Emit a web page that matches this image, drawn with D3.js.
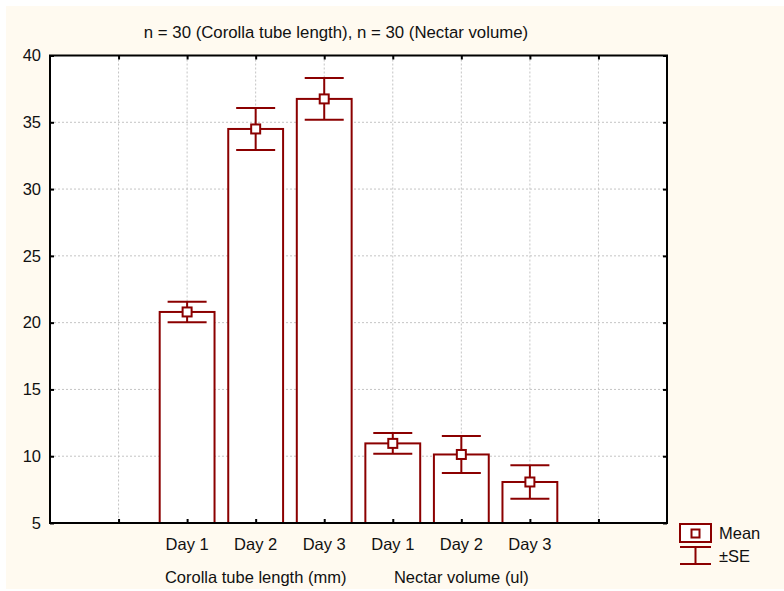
<!DOCTYPE html>
<html>
<head>
<meta charset="utf-8">
<script src="https://cdn.jsdelivr.net/npm/d3@7"></script>
<style>
  body { margin: 0; background: #fff; }
  text { font-family: "Liberation Sans", Arial, sans-serif; fill: #111; }
</style>
</head>
<body>
<svg id="chart" width="784" height="591"></svg>
<script>
// data
const groups = ['Corolla tube length (mm)', 'Nectar volume (ul)'];
const dayLabels = ['Day 1', 'Day 2', 'Day 3'];
const corollaMean = [20.8, 34.5, 36.75];
const corollaSE = [0.77, 1.57, 1.56];
const nectarMean = [10.96, 10.13, 8.07];
const nectarSE = [0.77, 1.38, 1.25];
const yTicks = [5, 10, 15, 20, 25, 30, 35, 40];
const title = 'n = 30 (Corolla tube length), n = 30 (Nectar volume)';

const rows = [];
dayLabels.forEach((d, i) => rows.push({ group: 0, label: d, mean: corollaMean[i], se: corollaSE[i] }));
dayLabels.forEach((d, i) => rows.push({ group: 1, label: d, mean: nectarMean[i], se: nectarSE[i] }));
rows.forEach((r, i) => { r.pos = i + 2; });

const red = '#8b0000';
const fs = '16.5px';
const margin = { top: 55.5, right: 117, bottom: 68, left: 50 };
const W = 784, H = 591;
const width = W - margin.left - margin.right;
const height = H - margin.top - margin.bottom;

const svg = d3.select('#chart');
svg.append('rect').attr('x', 6).attr('y', 6).attr('width', W - 6).attr('height', H - 8)
    .attr('fill', '#fffaf0');

const g = svg.append('g').attr('transform', 'translate(' + margin.left + ',' + margin.top + ')');

const x = d3.scaleLinear().domain([0, 9]).range([0, width]);
const y = d3.scaleLinear().domain([5, 40]).range([height, 0]);
const step = x(1) - x(0);
const bw = step * 0.8;

g.append('rect').attr('width', width).attr('height', height).attr('fill', '#fff');

// grid
g.selectAll('line.vgrid').data(d3.range(1, 9)).enter().append('line')
    .attr('x1', d => x(d)).attr('x2', d => x(d)).attr('y1', 0).attr('y2', height)
    .attr('stroke', '#c4c4c4').attr('stroke-dasharray', '2,2');
g.selectAll('line.hgrid').data(yTicks.slice(1, -1)).enter().append('line')
    .attr('y1', d => y(d)).attr('y2', d => y(d)).attr('x1', 0).attr('x2', width)
    .attr('stroke', '#c4c4c4').attr('stroke-dasharray', '2,2');

// bars
g.selectAll('rect.bar').data(rows).enter().append('rect')
    .attr('x', d => x(d.pos) - bw / 2).attr('width', bw)
    .attr('y', d => y(d.mean)).attr('height', d => height - y(d.mean))
    .attr('fill', '#fff').attr('stroke', red).attr('stroke-width', 2);

// error bars
const capW = 39;
const eb = g.selectAll('g.err').data(rows).enter().append('g');
eb.append('line').attr('x1', d => x(d.pos)).attr('x2', d => x(d.pos))
    .attr('y1', d => y(d.mean + d.se)).attr('y2', d => y(d.mean - d.se))
    .attr('stroke', red).attr('stroke-width', 2);
eb.append('line').attr('x1', d => x(d.pos) - capW / 2).attr('x2', d => x(d.pos) + capW / 2)
    .attr('y1', d => y(d.mean + d.se)).attr('y2', d => y(d.mean + d.se))
    .attr('stroke', red).attr('stroke-width', 2);
eb.append('line').attr('x1', d => x(d.pos) - capW / 2).attr('x2', d => x(d.pos) + capW / 2)
    .attr('y1', d => y(d.mean - d.se)).attr('y2', d => y(d.mean - d.se))
    .attr('stroke', red).attr('stroke-width', 2);
eb.append('rect').attr('x', d => x(d.pos) - 4.5).attr('y', d => y(d.mean) - 4.5)
    .attr('width', 9).attr('height', 9)
    .attr('fill', '#fff').attr('stroke', red).attr('stroke-width', 2);

// axes with inward ticks
const yAxisL = d3.axisLeft(y).tickValues(yTicks).tickSize(-4).tickPadding(9);
const yAxisR = d3.axisRight(y).tickValues(yTicks).tickSize(-4).tickFormat('');
const xAxisB = d3.axisBottom(x).tickValues(d3.range(1, 9)).tickSize(-4).tickFormat('');
const xAxisT = d3.axisTop(x).tickValues(d3.range(1, 9)).tickSize(-4).tickFormat('');

function style(sel) {
    sel.select('.domain').remove();
    sel.selectAll('line').attr('stroke', '#000').attr('stroke-width', 2);
    sel.selectAll('text').style('font-size', fs).attr('fill', '#111')
        .style('font-family', '"Liberation Sans", Arial, sans-serif');
}
g.append('g').call(yAxisL).call(style);
g.append('g').attr('transform', 'translate(' + width + ',0)').call(yAxisR).call(style);
g.append('g').attr('transform', 'translate(0,' + height + ')').call(xAxisB).call(style);
g.append('g').call(xAxisT).call(style);

// frame
g.append('rect').attr('width', width).attr('height', height)
    .attr('fill', 'none').attr('stroke', '#000').attr('stroke-width', 2);

// category labels
g.selectAll('text.day').data(rows).enter().append('text')
    .attr('x', d => x(d.pos)).attr('y', height + 27)
    .attr('text-anchor', 'middle').style('font-size', fs).text(d => d.label);
g.selectAll('text.grp').data(groups).enter().append('text')
    .attr('x', (d, i) => x(3 + i * 3)).attr('y', height + 60)
    .attr('text-anchor', 'middle').style('font-size', fs).text(d => d);

// title
svg.append('text').attr('x', 336).attr('y', 38).attr('text-anchor', 'middle')
    .style('font-size', '16.8px').text(title);

// legend
const lg = svg.append('g').attr('transform', 'translate(680,524)');
lg.append('rect').attr('width', 31).attr('height', 18)
    .attr('fill', '#fff').attr('stroke', red).attr('stroke-width', 2);
lg.append('rect').attr('x', 11.5).attr('y', 5.5).attr('width', 8).attr('height', 8)
    .attr('fill', '#fff').attr('stroke', red).attr('stroke-width', 2);
lg.append('line').attr('x1', 0).attr('x2', 31).attr('y1', 23).attr('y2', 23).attr('stroke', red).attr('stroke-width', 2);
lg.append('line').attr('x1', 0).attr('x2', 31).attr('y1', 40).attr('y2', 40).attr('stroke', red).attr('stroke-width', 2);
lg.append('line').attr('x1', 15.5).attr('x2', 15.5).attr('y1', 23).attr('y2', 40).attr('stroke', red).attr('stroke-width', 2);
lg.append('text').attr('x', 39).attr('y', 15).style('font-size', fs).text('Mean');
lg.append('text').attr('x', 39).attr('y', 38).style('font-size', fs).text('±SE');
</script>
</body>
</html>
